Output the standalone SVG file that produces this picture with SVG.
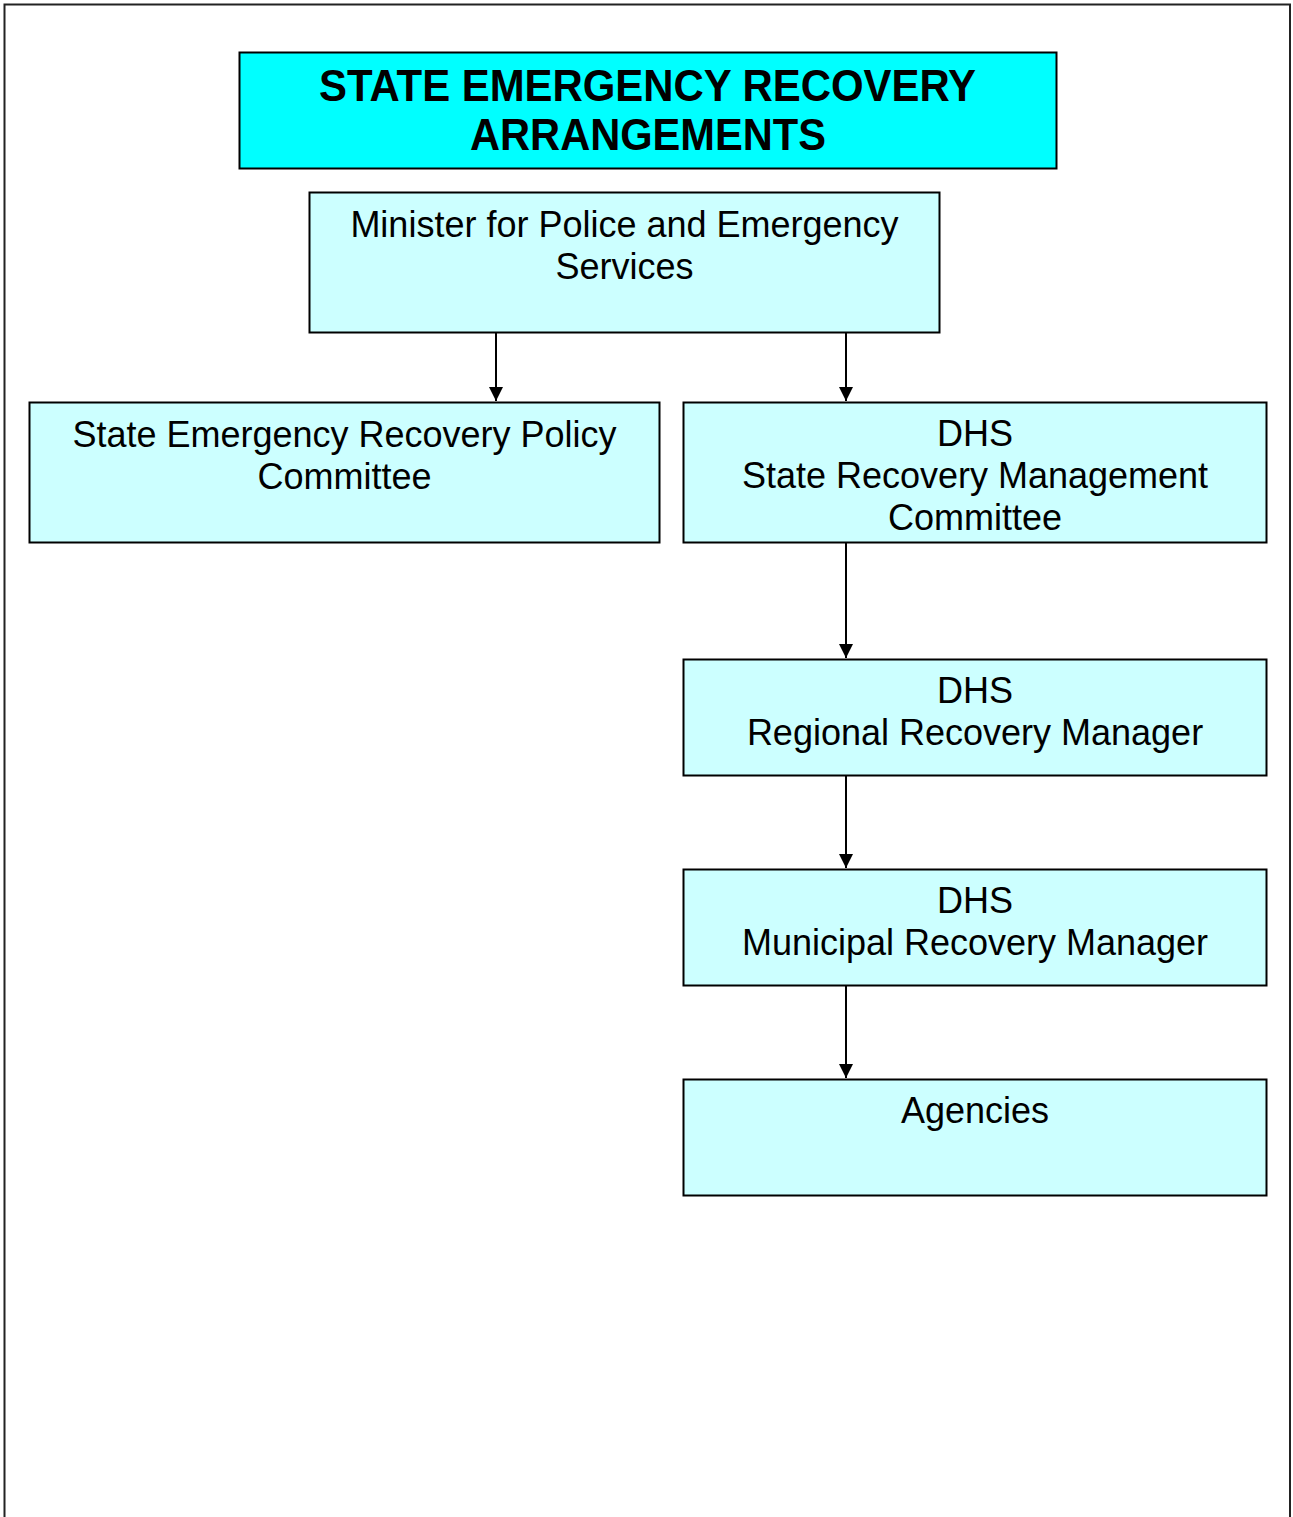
<svg xmlns="http://www.w3.org/2000/svg" width="1293" height="1517" viewBox="0 0 1293 1517">
<style>
.box{fill:#CCFFFF;stroke:#000;stroke-width:2}
.title{fill:#00FFFF;stroke:#000;stroke-width:2}
.t{font-family:"Liberation Sans",Arial,sans-serif;font-size:36px;fill:#000;text-anchor:middle}
.tb{font-family:"Liberation Sans",Arial,sans-serif;font-size:44px;font-weight:bold;fill:#000;text-anchor:middle}
.c{stroke:#000;stroke-width:2;fill:none;marker-end:url(#ah)}
</style>
<defs>
<marker id="ah" markerWidth="14" markerHeight="16" refX="14" refY="7" orient="auto" markerUnits="userSpaceOnUse">
<path d="M0,0 L14,7 L0,14 Z" fill="#000"/>
</marker>
</defs>
<rect width="1293" height="1517" fill="#fff"/>
<path d="M4.5,1517 V4.5 H1290 V1517" fill="none" stroke="#222" stroke-width="2"/>
<g id="title">
<rect class="title" x="239.5" y="52.5" width="817" height="116"/>
<text class="tb" x="647.5" y="101" textLength="657" lengthAdjust="spacingAndGlyphs">STATE EMERGENCY RECOVERY</text>
<text class="tb" x="648" y="150" textLength="356" lengthAdjust="spacingAndGlyphs">ARRANGEMENTS</text>
</g>
<g id="minister">
<rect class="box" x="309.5" y="192.5" width="630" height="140"/>
<text class="t" x="624.5" y="237">Minister for Police and Emergency</text>
<text class="t" x="624.5" y="279">Services</text>
</g>
<g id="policy">
<rect class="box" x="29.5" y="402.5" width="630" height="140"/>
<text class="t" x="344.5" y="447">State Emergency Recovery Policy</text>
<text class="t" x="344.5" y="489">Committee</text>
</g>
<g id="srmc">
<rect class="box" x="683.5" y="402.5" width="583" height="140"/>
<text class="t" x="975" y="446">DHS</text>
<text class="t" x="975" y="488">State Recovery Management</text>
<text class="t" x="975" y="530">Committee</text>
</g>
<g id="regional">
<rect class="box" x="683.5" y="659.5" width="583" height="116"/>
<text class="t" x="975" y="703">DHS</text>
<text class="t" x="975" y="745">Regional Recovery Manager</text>
</g>
<g id="municipal">
<rect class="box" x="683.5" y="869.5" width="583" height="116"/>
<text class="t" x="975" y="913">DHS</text>
<text class="t" x="975" y="955">Municipal Recovery Manager</text>
</g>
<g id="agencies">
<rect class="box" x="683.5" y="1079.5" width="583" height="116"/>
<text class="t" x="975" y="1123">Agencies</text>
</g>
<g id="connectors">
<line class="c" x1="496" y1="333" x2="496" y2="401"/>
<line class="c" x1="846" y1="333" x2="846" y2="401"/>
<line class="c" x1="846" y1="543" x2="846" y2="658"/>
<line class="c" x1="846" y1="776" x2="846" y2="868"/>
<line class="c" x1="846" y1="986" x2="846" y2="1078"/>
</g>
</svg>
